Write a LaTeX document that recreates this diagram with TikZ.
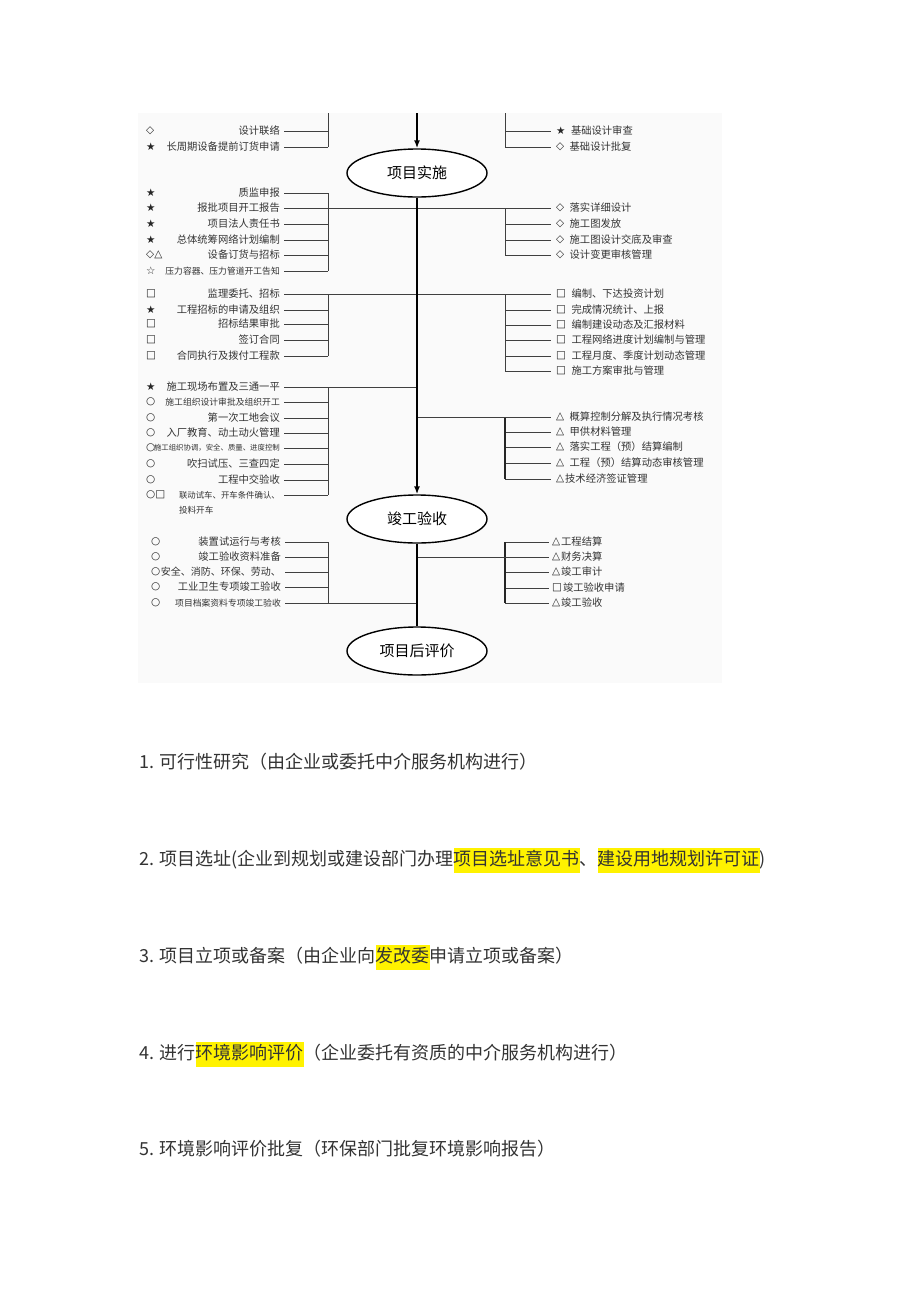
\documentclass[tikz,border=0pt]{standalone}
\usepackage{fontspec}
\setmainfont{Noto Sans CJK SC}
\newfontfamily\symfont{DejaVu Sans}
\usetikzlibrary{shapes.geometric,positioning,arrows.meta}
\newcommand\hlbox[1]{{\setlength\fboxsep{0pt}\colorbox{yellow}{\strut#1}}}
\tikzset{
  item/.style={inner sep=0pt,text=black!80,font=\fontsize{10.3}{12}\selectfont},
  mk/.style={inner sep=0pt,text=black!85,font=\symfont\fontsize{10.5}{12}\selectfont},
  stage/.style={draw,ellipse,line width=1.4pt,fill=white,minimum width=140pt,minimum height=48pt,font=\fontsize{15}{18}\selectfont},
  link/.style={black!75,line width=0.8pt},
  heavy/.style={black!85,line width=1.4pt},
  trunk/.style={line width=2pt},
  note/.style={anchor=west,inner sep=0pt,text=black!80,font=\fontsize{18}{25}\selectfont}
}
\begin{document}
\begin{tikzpicture}[x=1pt,y=-1pt]
    \useasboundingbox (0,0) rectangle (920,1302);
    \fill[black!2] (138,113) rectangle (722,683);

    \coordinate (top) at (417,113);
    \coordinate (lb) at (328,0);
    \coordinate (rb) at (505,0);

    \node[stage] (impl) at (417,173) {项目实施};
    \node[stage] (accept) at (417,519) {竣工验收};
    \node[stage] (post) at (417,651) {项目后评价};

    % left column
    \foreach \y/\mrk/\txt in {131/◇/设计联络, 147/★/长周期设备提前订货申请,
        193/★/质监申报, 208/★/报批项目开工报告, 224/★/项目法人责任书,
        240/★/总体统筹网络计划编制, 255/◇△/设备订货与招标,
        271/☆/{\fontsize{8.8}{10}\selectfont 压力容器、压力管道开工告知},
        294/□/监理委托、招标, 310/★/工程招标的申请及组织, 324/□/招标结果审批,
        340/□/签订合同, 356/□/合同执行及拨付工程款,
        387/★/施工现场布置及三通一平,
        402/○/{\fontsize{8.8}{10}\selectfont 施工组织设计审批及组织开工},
        418/○/第一次工地会议, 433/○/入厂教育、动土动火管理,
        448/○/{\fontsize{7.4}{9}\selectfont 施工组织协调，安全、质量、进度控制},
        464/○/吹扫试压、三查四定, 480/○/工程中交验收,
        495/○□/{\fontsize{8.4}{10}\selectfont 联动试车、开车条件确认、}}{
        \node[mk,anchor=west] (Lm\y) at (146,\y) {\mrk};
        \node[item,anchor=east] (L\y) at (280,\y) {\txt};
    }
    \node[item,anchor=west,font=\fontsize{8.6}{10}\selectfont] (L510) at (L495.west |- 0,510) {投料开车};

    \foreach \y/\txt in {542/装置试运行与考核, 557/竣工验收资料准备,
        572/{\fontsize{10}{12}\selectfont 安全、消防、环保、劳动、}, 587/工业卫生专项竣工验收,
        603/{\fontsize{8.8}{10}\selectfont 项目档案资料专项竣工验收}}{
        \node[mk,anchor=west] (Lm\y) at (151,\y) {○};
        \node[item,anchor=east] (L\y) at (281,\y) {\txt};
    }

    % right column
    \foreach \y/\mrk/\txt in {131/★/基础设计审查, 147/◇/基础设计批复,
        208/◇/落实详细设计, 224/◇/施工图发放, 240/◇/施工图设计交底及审查,
        255/◇/设计变更审核管理,
        294/□/编制、下达投资计划, 310/□/完成情况统计、上报,
        325/□/编制建设动态及汇报材料, 340/□/工程网络进度计划编制与管理,
        356/□/工程月度、季度计划动态管理, 371/□/施工方案审批与管理,
        417/△/概算控制分解及执行情况考核, 432/△/甲供材料管理,
        447/△/落实工程（预）结算编制, 463/△/工程（预）结算动态审核管理}{
        \node[mk,anchor=west] (Rm\y) at (556,\y) {\mrk};
        \node[item,right=5pt of Rm\y] (R\y) {\txt};
    }
    \node[mk,anchor=west] (Rm479) at (556,479) {△};
    \node[item,right=0.5pt of Rm479] (R479) {技术经济签证管理};

    \foreach \y/\mrk/\txt in {542/△/工程结算, 557/△/财务决算, 572/△/竣工审计,
        588/□/竣工验收申请, 603/△/竣工验收}{
        \node[mk,anchor=west] (Rm\y) at (552,\y) {\mrk};
        \node[item,right=0.5pt of Rm\y] (R\y) {\txt};
    }

    % branches
    \foreach \y in {131,147,193,224,240,255,271,310,324,340,356,402,418,433,448,464,480,495,542,557,572,587}
        \draw[link] ([xshift=4pt]L\y.east) -- (L\y.east -| lb);
    \draw[link] (lb |- top) -- (lb |- L147);
    \draw[link] (lb |- L193) -- (lb |- L271);
    \draw[link] (lb |- L294) -- (lb |- L356);
    \draw[link] (lb |- L387) -- (lb |- L495);
    \draw[link] (lb |- L542) -- (lb |- L603);

    \foreach \y in {131,147,224,240,255,310,325,340,356,371}
        \draw[link] (rb |- Rm\y) -- ([xshift=-5pt]Rm\y.west);
    \foreach \y in {432,447,463,479}
        \draw[link] (rb |- Rm\y) -- ([xshift=-5pt]Rm\y.west);
    \foreach \y in {542,572,588,603}
        \draw[link] (rb |- Rm\y) -- ([xshift=-3pt]Rm\y.west);
    \draw[link] (rb |- top) -- (rb |- Rm147);
    \draw[link] (rb |- Rm208) -- (rb |- Rm255);
    \draw[link] (rb |- Rm294) -- (rb |- Rm371);
    \draw[heavy] (rb |- Rm417) -- (rb |- Rm479);
    \draw[heavy] (rb |- Rm542) -- (rb |- Rm603);

    \draw[link] ([xshift=4pt]L208.east) -- ([xshift=-5pt]Rm208.west);
    \draw[link] ([xshift=4pt]L294.east) -- ([xshift=-5pt]Rm294.west);
    \draw[link] ([xshift=4pt]L387.east) -- (L387.east -| top);
    \draw[link] (Rm417 -| top) -- ([xshift=-5pt]Rm417.west);
    \draw[link] ([xshift=4pt]L603.east) -- (L603.east -| top);
    \draw[link] (Rm557 -| top) -- ([xshift=-3pt]Rm557.west);

    % main line
    \draw[trunk,-{Latex[length=8pt,width=6pt]}] (top) -- (impl.north);
    \draw[trunk,-{Latex[length=8pt,width=6pt]}] (impl.south) -- (accept.north);
    \draw[trunk] (accept.south) -- (post.north);

    % steps below
    \node[note] (n1) at (139,763) {\strut 1. 可行性研究（由企业或委托中介服务机构进行）};
    \node[note] (n2) at (139,860) {\strut 2. 项目选址(企业到规划或建设部门办理\hlbox{项目选址意见书}、\hlbox{建设用地规划许可证})};
    \node[note] (n3) at (139,957) {\strut 3. 项目立项或备案（由企业向\hlbox{发改委}申请立项或备案）};
    \node[note] (n4) at (139,1054) {\strut 4. 进行\hlbox{环境影响评价}（企业委托有资质的中介服务机构进行）};
    \node[note] (n5) at (139,1150) {\strut 5. 环境影响评价批复（环保部门批复环境影响报告）};
\end{tikzpicture}
\end{document}
